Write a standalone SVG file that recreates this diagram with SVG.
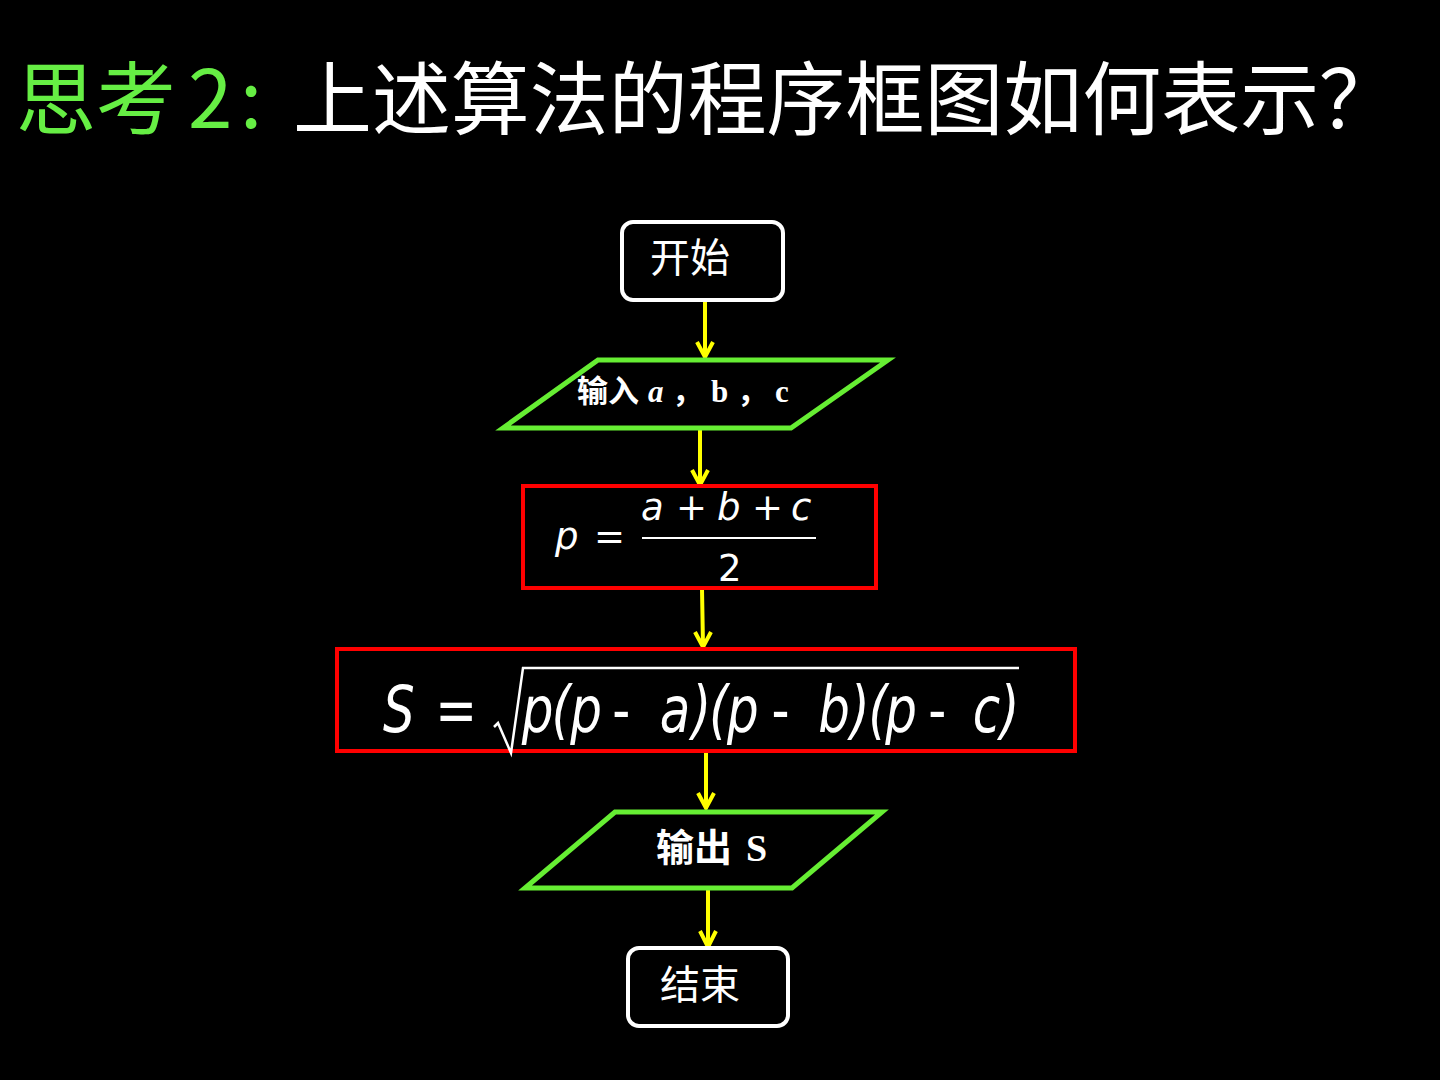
<svg xmlns="http://www.w3.org/2000/svg" width="1440" height="1080" viewBox="0 0 1440 1080">
<style>
.term{fill:#000;stroke:#fff;stroke-width:4}
.io{fill:#000;stroke:#66ee33;stroke-width:5;stroke-linejoin:miter}
.proc{fill:#000;stroke:#ff0000;stroke-width:4}
.conn{stroke:#ffff00;stroke-width:4;fill:none}
.cjk{font-family:"Noto Sans CJK SC","Noto Sans CJK TC",sans-serif;fill:#fff}
.ser{font-family:"Liberation Serif","Noto Sans CJK SC",serif;fill:#fff;font-weight:bold}
.math{font-family:"DejaVu Sans","Liberation Sans",sans-serif;fill:#fff}
</style>
<rect x="0" y="0" width="1440" height="1080" fill="#000"/>
<g id="title">
<text class="cjk" font-size="80" y="128"><tspan x="16" fill="#66ee44">思考</tspan><tspan x="188" fill="#66ee44">2</tspan><tspan x="240" fill="#66ee44">:</tspan><tspan x="293" textLength="1105" lengthAdjust="spacingAndGlyphs">上述算法的程序框图如何表示？</tspan></text>
</g>
<g id="connectors">
<path class="conn" d="M705 300 L705 356 M697 342 L705 357 L713 342"/>
<path class="conn" d="M700 429 L700 484 M692 470 L700 485 L708 470"/>
<path class="conn" d="M702 589 L703 646 M695 632 L703 647 L711 632"/>
<path class="conn" d="M706 753 L706 807 M698 793 L706 808 L714 793"/>
<path class="conn" d="M708 889 L708 946 M700 931 L708 947 L716 931"/>
</g>
<g id="start">
<rect class="term" x="622" y="222" width="161" height="78" rx="11"/>
<text class="cjk" font-size="40" x="650" y="272">开始</text>
</g>
<g id="input">
<polygon class="io" points="598,360 888,360 791,428 503,428"/>
<text class="ser" font-size="31" y="402"><tspan x="577" class="cjk" font-weight="bold">输入</tspan><tspan x="648" font-style="italic">a</tspan><tspan x="672" class="cjk" font-weight="bold">，</tspan><tspan x="711">b</tspan><tspan x="737" class="cjk" font-weight="bold">，</tspan><tspan x="775">c</tspan></text>
</g>
<g id="calc-p">
<rect class="proc" x="523" y="486" width="353" height="102"/>
<text class="math" font-size="37" x="555" y="549" font-style="italic">p</text>
<text class="math" font-size="37" x="594" y="549">=</text>
<text class="math" font-size="37" y="520"><tspan x="641" font-style="italic">a</tspan><tspan x="676">+</tspan><tspan x="717" font-style="italic">b</tspan><tspan x="752">+</tspan><tspan x="791" font-style="italic">c</tspan></text>
<line x1="642" y1="538" x2="816" y2="538" stroke="#fff" stroke-width="2"/>
<text class="math" font-size="37" x="718" y="581">2</text>
</g>
<g id="calc-s">
<rect class="proc" x="337" y="649" width="738" height="102"/>
<g transform="scale(0.78 1)">
<text class="math" font-size="64" y="732"><tspan x="491" font-style="italic">S</tspan><tspan x="558">=</tspan><tspan x="669" font-style="italic">p</tspan><tspan x="707" font-style="italic">(</tspan><tspan x="731" font-style="italic">p</tspan><tspan x="785">-</tspan><tspan x="846" font-style="italic">a</tspan><tspan x="887" font-style="italic">)</tspan><tspan x="909" font-style="italic">(</tspan><tspan x="932" font-style="italic">p</tspan><tspan x="989">-</tspan><tspan x="1049" font-style="italic">b</tspan><tspan x="1090" font-style="italic">)</tspan><tspan x="1113" font-style="italic">(</tspan><tspan x="1135" font-style="italic">p</tspan><tspan x="1190">-</tspan><tspan x="1247" font-style="italic">c</tspan><tspan x="1282" font-style="italic">)</tspan></text>
</g>
<path d="M494 727 L498 723 L511 753 L523 668 L1019 668" fill="none" stroke="#fff" stroke-width="2.5"/>
</g>
<g id="output">
<polygon class="io" points="615,812 882,812 792,888 525,888"/>
<text class="ser" font-size="38" y="861"><tspan x="656" class="cjk" font-weight="bold">输出</tspan><tspan x="746">S</tspan></text>
</g>
<g id="end">
<rect class="term" x="628" y="948" width="160" height="78" rx="11"/>
<text class="cjk" font-size="40" x="660" y="999">结束</text>
</g>
</svg>
